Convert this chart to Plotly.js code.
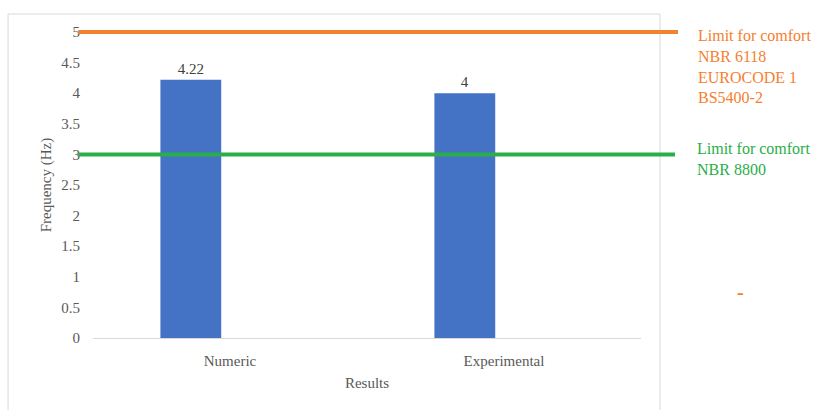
<!DOCTYPE html>
<html>
<head>
<meta charset="utf-8">
<script src="https://cdn.plot.ly/plotly-3.0.1.min.js"></script>
<style>html,body{margin:0;padding:0;background:#fff;}#chart{width:817px;height:410px;}</style>
</head>
<body>
<div id="chart"></div>
<script>
const categories = ["Numeric", "Experimental"];
const frequencies = [4.22, 4];
const valueLabels = ["4.22", "4"];
const limitValues = [5, 3];
const limitLabels = [
  "Limit for comfort<br>NBR 6118<br>EUROCODE 1<br>BS5400-2",
  "Limit for comfort<br>NBR 8800"
];
const yTicks = [0, 0.5, 1, 1.5, 2, 2.5, 3, 3.5, 4, 4.5, 5];
const yRange = [0, 5];

const ORANGE = "#F5802F";
const GREEN = "#2AAE4A";
const FONT = "Liberation Serif, Times New Roman, serif";

// convert a data value on the y axis to a paper fraction (so the limit lines are not clipped)
function yPaper(v) { return (v - yRange[0]) / (yRange[1] - yRange[0]); }

const trace = {
  type: "bar",
  x: categories,
  y: frequencies,
  text: valueLabels,
  textposition: "outside",
  textfont: {family: FONT, size: 15, color: "#404040"},
  cliponaxis: false,
  width: 0.222,
  offset: -0.254,
  marker: {color: "#4472C4"},
  hoverinfo: "x+y"
};

const layout = {
  width: 817, height: 410,
  margin: {l: 93, r: 176, t: 32, b: 72},
  paper_bgcolor: "#fff", plot_bgcolor: "#fff",
  showlegend: false,
  font: {family: FONT, size: 15, color: "#595959"},
  xaxis: {
    type: "category", range: [-0.5, 1.5],
    showline: true, linecolor: "#d9d9d9", linewidth: 1,
    showgrid: false, zeroline: false, ticks: "", ticklabelstandoff: 9,
    tickfont: {family: FONT, size: 15, color: "#595959"},
    title: {text: "Results", standoff: 9, font: {family: FONT, size: 15, color: "#595959"}}
  },
  yaxis: {
    range: yRange, tickvals: yTicks, ticktext: yTicks.map(String),
    showgrid: false, zeroline: false, showline: false, ticks: "",
    ticklabelstandoff: 12,
    tickfont: {family: FONT, size: 15, color: "#595959"},
    title: {text: "Frequency (Hz)", standoff: 6, font: {family: FONT, size: 15, color: "#595959"}}
  },
  shapes: [
    {type: "rect", xref: "paper", yref: "paper", x0: -0.155, x1: 1.0347, y0: -0.26, y1: 1.0588,
     line: {color: "#d9d9d9", width: 1}, fillcolor: "rgba(0,0,0,0)", layer: "below"},
    {type: "line", xref: "paper", yref: "paper", x0: -0.027, x1: 1.0675,
     y0: yPaper(limitValues[0]), y1: yPaper(limitValues[0]),
     line: {color: ORANGE, width: 4}},
    {type: "line", xref: "paper", yref: "paper", x0: -0.027, x1: 1.062,
     y0: yPaper(limitValues[1]), y1: yPaper(limitValues[1]),
     line: {color: GREEN, width: 4}}
  ],
  annotations: [
    {xref: "paper", yref: "paper", x: 1.100, y: 1.022, xanchor: "left", yanchor: "top", align: "left",
     showarrow: false, text: limitLabels[0], font: {family: FONT, size: 16, color: ORANGE}},
    {xref: "paper", yref: "paper", x: 1.098, y: 0.655, xanchor: "left", yanchor: "top", align: "left",
     showarrow: false, text: limitLabels[1], font: {family: FONT, size: 16, color: GREEN}},
    {xref: "paper", yref: "paper", x: 1.181, y: 0.150, xanchor: "center", yanchor: "middle",
     showarrow: false, text: "<b>-</b>", font: {family: FONT, size: 20, color: ORANGE}}
  ]
};

Plotly.newPlot("chart", [trace], layout, {displayModeBar: false, staticPlot: true});
</script>
</body>
</html>
